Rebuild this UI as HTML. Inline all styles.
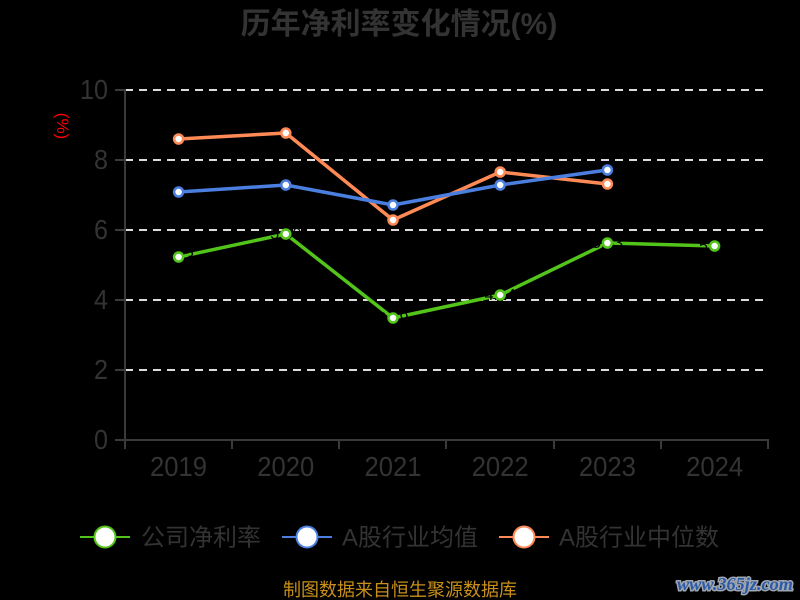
<!DOCTYPE html>
<html>
<head>
<meta charset="utf-8">
<style>
  html,body{margin:0;padding:0;background:#000;}
  svg{display:block;}
  text{font-family:"Liberation Sans","Noto Sans CJK SC",sans-serif;}
</style>
</head>
<body>
<svg width="800" height="600" viewBox="0 0 800 600" xmlns="http://www.w3.org/2000/svg">
  <rect width="800" height="600" fill="#000"/>
  <!-- Title -->
  <text x="399" y="34" text-anchor="middle" font-size="30" font-weight="bold" fill="#333">历年净利率变化情况(%)</text>

  <!-- Y axis title -->
  <text transform="translate(57,126) rotate(90)" text-anchor="middle" font-size="17" fill="#ff0000">(%)</text>

  <!-- Grid lines -->
  <g stroke="#dcdcdc" stroke-width="2" stroke-dasharray="8,6">
    <line x1="125" y1="90" x2="768" y2="90"/>
    <line x1="125" y1="160" x2="768" y2="160"/>
    <line x1="125" y1="230" x2="768" y2="230"/>
    <line x1="125" y1="300" x2="768" y2="300"/>
    <line x1="125" y1="370" x2="768" y2="370"/>
  </g>

  <!-- Axes -->
  <g stroke="#3a3a3a" stroke-width="2" fill="none">
    <line x1="125" y1="89" x2="125" y2="441"/>
    <line x1="115" y1="440" x2="769" y2="440"/>
    <line x1="115" y1="90" x2="125" y2="90"/>
    <line x1="115" y1="160" x2="125" y2="160"/>
    <line x1="115" y1="230" x2="125" y2="230"/>
    <line x1="115" y1="300" x2="125" y2="300"/>
    <line x1="115" y1="370" x2="125" y2="370"/>
    <line x1="125" y1="440" x2="125" y2="449"/>
    <line x1="232" y1="440" x2="232" y2="449"/>
    <line x1="339" y1="440" x2="339" y2="449"/>
    <line x1="446" y1="440" x2="446" y2="449"/>
    <line x1="554" y1="440" x2="554" y2="449"/>
    <line x1="661" y1="440" x2="661" y2="449"/>
    <line x1="768" y1="440" x2="768" y2="449"/>
  </g>

  <!-- Y labels -->
  <g font-size="28" fill="#333">
    <text x="80" y="99" textLength="28" lengthAdjust="spacingAndGlyphs">10</text>
    <text x="94" y="169" textLength="14" lengthAdjust="spacingAndGlyphs">8</text>
    <text x="94" y="239" textLength="14" lengthAdjust="spacingAndGlyphs">6</text>
    <text x="94" y="309" textLength="14" lengthAdjust="spacingAndGlyphs">4</text>
    <text x="94" y="379" textLength="14" lengthAdjust="spacingAndGlyphs">2</text>
    <text x="94" y="449" textLength="14" lengthAdjust="spacingAndGlyphs">0</text>
  </g>

  <!-- X labels -->
  <g font-size="28" fill="#333">
    <text x="150" y="476" textLength="57" lengthAdjust="spacingAndGlyphs">2019</text>
    <text x="257.3" y="476" textLength="57" lengthAdjust="spacingAndGlyphs">2020</text>
    <text x="364.5" y="476" textLength="57" lengthAdjust="spacingAndGlyphs">2021</text>
    <text x="471.7" y="476" textLength="57" lengthAdjust="spacingAndGlyphs">2022</text>
    <text x="578.9" y="476" textLength="57" lengthAdjust="spacingAndGlyphs">2023</text>
    <text x="686.1" y="476" textLength="57" lengthAdjust="spacingAndGlyphs">2024</text>
  </g>

  <!-- Orange series -->
  <polyline fill="none" stroke="#ff8a55" stroke-width="3.5" stroke-linejoin="round"
    points="178.6,139 285.8,133 393,220 500.2,172 607.4,184"/>
  <!-- Blue series -->
  <polyline fill="none" stroke="#4a7fe0" stroke-width="3.5" stroke-linejoin="round"
    points="178.6,192 285.8,185 393,205 500.2,185 607.4,170"/>
  <!-- Green series -->
  <polyline fill="none" stroke="#52c41a" stroke-width="3.5" stroke-linejoin="round"
    points="178.6,257 285.8,234 393,318 500.2,295 607.4,243 714.6,246"/>

  <!-- Green labels (black, barely visible) -->
  <g font-size="16" fill="#000" text-anchor="middle">
    <text x="178.6" y="262">5.23</text>
    <text x="285.8" y="239">5.89</text>
    <text x="393" y="323">3.49</text>
    <text x="500.2" y="300">4.14</text>
    <text x="607.4" y="248">5.63</text>
    <text x="714.6" y="251">5.54</text>
  </g>

  <!-- Markers -->
  <g fill="#fff" stroke="#ff8a55" stroke-width="2.5">
    <circle cx="178.6" cy="139" r="4.5"/>
    <circle cx="285.8" cy="133" r="4.5"/>
    <circle cx="393" cy="220" r="4.5"/>
    <circle cx="500.2" cy="172" r="4.5"/>
    <circle cx="607.4" cy="184" r="4.5"/>
  </g>
  <g fill="#fff" stroke="#4a7fe0" stroke-width="2.5">
    <circle cx="178.6" cy="192" r="4.5"/>
    <circle cx="285.8" cy="185" r="4.5"/>
    <circle cx="393" cy="205" r="4.5"/>
    <circle cx="500.2" cy="185" r="4.5"/>
    <circle cx="607.4" cy="170" r="4.5"/>
  </g>
  <g fill="#fff" stroke="#52c41a" stroke-width="2.5">
    <circle cx="178.6" cy="257" r="4.5"/>
    <circle cx="285.8" cy="234" r="4.5"/>
    <circle cx="393" cy="318" r="4.5"/>
    <circle cx="500.2" cy="295" r="4.5"/>
    <circle cx="607.4" cy="243" r="4.5"/>
    <circle cx="714.6" cy="246" r="4.5"/>
  </g>

  <!-- Legend -->
  <g>
    <line x1="80" y1="537" x2="130" y2="537" stroke="#52c41a" stroke-width="2"/>
    <circle cx="105" cy="537" r="10.5" fill="#fff" stroke="#52c41a" stroke-width="2"/>
    <text x="141" y="545.5" font-size="24" fill="#333">公司净利率</text>

    <line x1="282" y1="537" x2="332" y2="537" stroke="#4a7fe0" stroke-width="2"/>
    <circle cx="307" cy="537" r="10.5" fill="#fff" stroke="#4a7fe0" stroke-width="2"/>
    <text x="342" y="545.5" font-size="24" fill="#333">A股行业均值</text>

    <line x1="499" y1="537" x2="549" y2="537" stroke="#ff8a55" stroke-width="2"/>
    <circle cx="524" cy="537" r="10.5" fill="#fff" stroke="#ff8a55" stroke-width="2"/>
    <text x="559" y="545.5" font-size="24" fill="#333">A股行业中位数</text>
  </g>

  <!-- Source -->
  <text x="400" y="596" text-anchor="middle" font-size="18" fill="#c8901a">制图数据来自恒生聚源数据库</text>

  <!-- Watermark -->
  <text x="677" y="590" font-size="18" font-weight="bold" font-style="italic" textLength="116" lengthAdjust="spacingAndGlyphs"
    style="font-family:'Liberation Serif',serif" fill="#2a5aa8" stroke="#a0a6ae" stroke-width="3" paint-order="stroke">www.365jz.com</text>
</svg>
</body>
</html>
